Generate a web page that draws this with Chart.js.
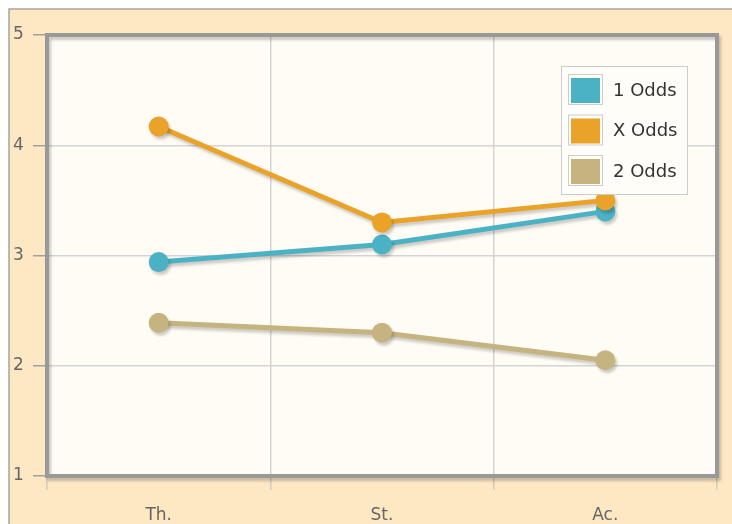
<!DOCTYPE html>
<html>
<head>
<meta charset="utf-8">
<script src="https://cdn.jsdelivr.net/npm/chart.js@4.4.1/dist/chart.umd.min.js"></script>
<style>
  html, body { margin: 0; padding: 0; background: #ffffff; }
  #wrap { width: 732px; height: 524px; }
</style>
</head>
<body>
<div id="wrap"><canvas id="c" width="732" height="524"></canvas></div>
<script>
const categories = ['Th.', 'St.', 'Ac.'];
const seriesLabels = ['1 Odds', 'X Odds', '2 Odds'];
const odds1 = [2.94, 3.10, 3.40];
const oddsX = [4.17, 3.30, 3.50];
const odds2 = [2.39, 2.30, 2.05];
const seriesColors = ['#4bb2c5', '#eaa228', '#c5b47f'];
const yMin = 1, yMax = 5, yStep = 1;

const FONT = '"DejaVu Sans", Verdana, sans-serif';

const framePlugin = {
  id: 'frame',
  beforeDraw(chart) {
    const ctx = chart.ctx;
    const a = chart.chartArea;
    ctx.save();
    ctx.fillStyle = '#ffffff';
    ctx.fillRect(0, 0, chart.width, chart.height);
    ctx.fillStyle = '#fde8c3';
    ctx.fillRect(9, 9, chart.width - 9, chart.height - 9);
    ctx.strokeStyle = '#a8a29a';
    ctx.lineWidth = 1.5;
    ctx.beginPath();
    ctx.moveTo(9, chart.height);
    ctx.lineTo(9, 9);
    ctx.lineTo(chart.width, 9);
    ctx.stroke();
    ctx.fillStyle = '#fffcf5';
    ctx.fillRect(a.left, a.top, a.right - a.left, a.bottom - a.top);
    ctx.restore();
  },
  beforeDatasetsDraw(chart) {
    const ctx = chart.ctx;
    const a = chart.chartArea;
    ctx.save();
    ctx.shadowColor = 'rgba(0,0,0,0.22)';
    ctx.shadowOffsetX = 2;
    ctx.shadowOffsetY = 3;
    ctx.shadowBlur = 3;
    ctx.strokeStyle = '#999999';
    ctx.lineWidth = 4;
    ctx.strokeRect(a.left, a.top, a.right - a.left, a.bottom - a.top);
    ctx.restore();
    ctx.save();
    ctx.shadowColor = 'rgba(0,0,0,0.2)';
    ctx.shadowOffsetX = 2;
    ctx.shadowOffsetY = 3;
    ctx.shadowBlur = 3;
  },
  afterDatasetsDraw(chart) {
    chart.ctx.restore();
  },
  afterDraw(chart) {
    const ctx = chart.ctx;
    const a = chart.chartArea;
    const boxW = 126, boxH = 128;
    const bx = a.right - 30 - boxW;
    const by = a.top + 31;
    ctx.save();
    ctx.fillStyle = '#fffdf8';
    ctx.fillRect(bx, by, boxW, boxH);
    ctx.strokeStyle = '#cccccc';
    ctx.lineWidth = 1;
    ctx.strokeRect(bx + 0.5, by + 0.5, boxW, boxH);
    chart.data.datasets.forEach((ds, i) => {
      const cy = by + 24 + i * 40.5;
      const sx = bx + 7;
      ctx.strokeStyle = '#cccccc';
      ctx.lineWidth = 1;
      ctx.strokeRect(sx + 0.5, cy - 15.5, 34, 30);
      ctx.fillStyle = ds.borderColor;
      ctx.fillRect(sx + 3, cy - 12, 29, 25);
      ctx.fillStyle = '#333333';
      ctx.font = '18px ' + FONT;
      ctx.textBaseline = 'middle';
      ctx.textAlign = 'left';
      ctx.fillText(ds.label, bx + 52, cy + 1);
    });
    ctx.restore();
  }
};

const values = [odds1, oddsX, odds2];
const datasets = values.map((v, i) => ({
  label: seriesLabels[i],
  data: v,
  borderColor: seriesColors[i],
  backgroundColor: seriesColors[i],
  borderWidth: 5,
  pointRadius: 10,
  pointHoverRadius: 10,
  pointBorderWidth: 0,
  tension: 0,
  order: i === 1 ? 0 : (i === 0 ? 1 : 2)
}));

new Chart(document.getElementById('c'), {
  type: 'line',
  data: { labels: categories, datasets },
  options: {
    responsive: false,
    animation: false,
    devicePixelRatio: 1,
    events: [],
    layout: { padding: { left: 13, top: 35, right: 15, bottom: 0 } },
    plugins: { legend: { display: false }, title: { display: false }, tooltip: { enabled: false } },
    scales: {
      x: {
        type: 'category',
        offset: true,
        afterFit(s) { s.height = 48; },
        grid: { offset: true, color: '#d4d4d4', lineWidth: 1.5, tickColor: '#d8cbb0', tickLength: 14 },
        border: { display: false },
        ticks: { color: '#666666', font: { family: FONT, size: 17 }, padding: 15 }
      },
      y: {
        min: yMin,
        max: yMax,
        afterFit(s) { s.width = 34; },
        grid: { color: '#d4d4d4', lineWidth: 1.5, tickColor: '#a0a0a0', tickLength: 14 },
        border: { display: false },
        ticks: { stepSize: yStep, color: '#666666', crossAlign: 'far', font: { family: FONT, size: 17 } }
      }
    }
  },
  plugins: [framePlugin]
});
</script>
</body>
</html>
